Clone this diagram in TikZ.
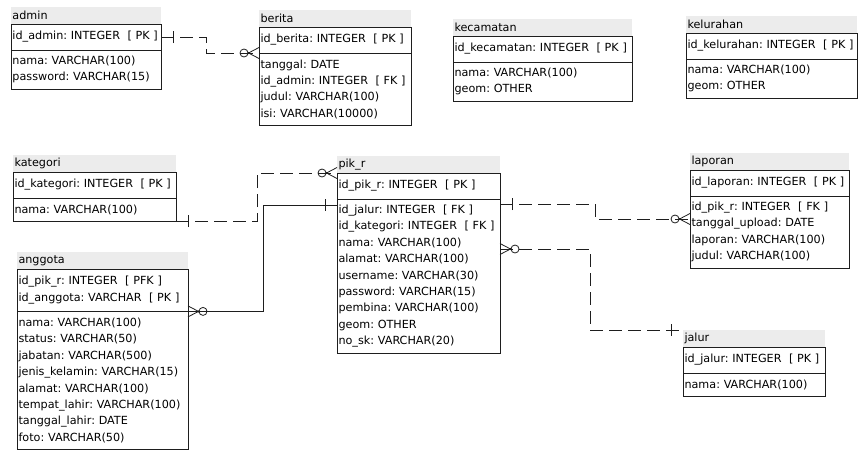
\documentclass[tikz,border=0pt]{standalone}
\usepackage{fontspec}
\setmainfont{DejaVu Sans}
\usetikzlibrary{positioning,calc}
\definecolor{bandGray}{RGB}{236,236,236}
\definecolor{boxLine}{RGB}{30,30,30}
\newcommand{\erfont}{\fontsize{11.2}{16.4}\selectfont\frenchspacing}
\tikzset{
  ttl/.style={fill=bandGray,anchor=north west,inner xsep=1.5pt,inner ysep=0pt,
              outer sep=0pt,minimum height=17pt,align=left,font=\erfont},
  pk/.style={draw=boxLine,line width=0.8pt,inner xsep=1.5pt,inner ysep=0pt,
             outer sep=0pt,align=left,font=\erfont},
  att/.style={draw=boxLine,line width=0.8pt,inner xsep=1.5pt,inner ysep=0pt,
              outer sep=0pt,align=left,font=\erfont},
  rel/.style={boxLine,line width=0.8pt,dash pattern=on 13pt off 6pt},
  idrel/.style={boxLine,line width=0.8pt},
  onemark/.pic={\draw[boxLine,solid,line width=0.8pt] (12,-6) -- (12,6);},
  manymark/.pic={\draw[boxLine,solid,line width=0.8pt] (10.5,0) -- (0,5.5) (10.5,0) -- (0,-5.5)
                 (15,0) circle (4pt);
                 \fill[boxLine] (10.5,0) circle (1.1pt);},
}

\begin{document}
\begin{tikzpicture}[x=1pt,y=1pt]
  \useasboundingbox (0,0) rectangle (858,-450);

  % top row
  \node[ttl,text width=147pt] (admin) at (11,-7) {admin};
  \node[pk,text width=147pt,minimum height=26pt,below=0pt of admin] (admin-pk)
    {id\_admin: INTEGER\ \ [ PK ]};
  \node[att,text width=147pt,minimum height=39.4pt,below=0pt of admin-pk] (admin-att)
    {nama: VARCHAR(100)\\password: VARCHAR(15)};

  \node[ttl,text width=149pt] (berita) at (259,-10) {berita};
  \node[pk,text width=149pt,minimum height=26pt,below=0pt of berita] (berita-pk)
    {id\_berita: INTEGER\ \ [ PK ]};
  \node[att,text width=149pt,minimum height=72.2pt,below=0pt of berita-pk] (berita-att)
    {tanggal: DATE\\id\_admin: INTEGER\ \ [ FK ]\\judul: VARCHAR(100)\\isi: VARCHAR(10000)};

  \node[ttl,text width=176pt] (kecamatan) at (453,-19) {kecamatan};
  \node[pk,text width=176pt,minimum height=26pt,below=0pt of kecamatan] (kecamatan-pk)
    {id\_kecamatan: INTEGER\ \ [ PK ]};
  \node[att,text width=176pt,minimum height=39.4pt,below=0pt of kecamatan-pk] (kecamatan-att)
    {nama: VARCHAR(100)\\geom: OTHER};

  \node[ttl,text width=168pt] (kelurahan) at (686,-16) {kelurahan};
  \node[pk,text width=168pt,minimum height=26pt,below=0pt of kelurahan] (kelurahan-pk)
    {id\_kelurahan: INTEGER\ \ [ PK ]};
  \node[att,text width=168pt,minimum height=39.4pt,below=0pt of kelurahan-pk] (kelurahan-att)
    {nama: VARCHAR(100)\\geom: OTHER};

  % middle and bottom
  \node[ttl,text width=160pt] (kategori) at (13,-155) {kategori};
  \node[pk,text width=160pt,minimum height=26pt,below=0pt of kategori] (kategori-pk)
    {id\_kategori: INTEGER\ \ [ PK ]};
  \node[att,text width=160pt,minimum height=23pt,below=0pt of kategori-pk] (kategori-att)
    {nama: VARCHAR(100)};

  \node[ttl,text width=160pt] (pikr) at (337,-156) {pik\_r};
  \node[pk,text width=160pt,minimum height=26pt,below=0pt of pikr] (pikr-pk)
    {id\_pik\_r: INTEGER\ \ [ PK ]};
  \node[att,text width=160pt,minimum height=154.2pt,below=0pt of pikr-pk] (pikr-att)
    {id\_jalur: INTEGER\ \ [ FK ]\\id\_kategori: INTEGER\ \ [ FK ]\\nama: VARCHAR(100)\\
     alamat: VARCHAR(100)\\username: VARCHAR(30)\\password: VARCHAR(15)\\
     pembina: VARCHAR(100)\\geom: OTHER\\no\_sk: VARCHAR(20)};

  \node[ttl,text width=156pt] (laporan) at (690,-153) {laporan};
  \node[pk,text width=156pt,minimum height=26pt,below=0pt of laporan] (laporan-pk)
    {id\_laporan: INTEGER\ \ [ PK ]};
  \node[att,text width=156pt,minimum height=72.2pt,below=0pt of laporan-pk] (laporan-att)
    {id\_pik\_r: INTEGER\ \ [ FK ]\\tanggal\_upload: DATE\\laporan: VARCHAR(100)\\judul: VARCHAR(100)};

  \node[ttl,text width=168pt] (anggota) at (17,-252) {anggota};
  \node[pk,text width=168pt,minimum height=42.4pt,below=0pt of anggota] (anggota-pk)
    {id\_pik\_r: INTEGER\ \ [ PFK ]\\id\_anggota: VARCHAR\ \ [ PK ]};
  \node[att,text width=168pt,minimum height=137.8pt,below=0pt of anggota-pk] (anggota-att)
    {nama: VARCHAR(100)\\status: VARCHAR(50)\\jabatan: VARCHAR(500)\\
     jenis\_kelamin: VARCHAR(15)\\alamat: VARCHAR(100)\\tempat\_lahir: VARCHAR(100)\\
     tanggal\_lahir: DATE\\foto: VARCHAR(50)};

  \node[ttl,text width=139pt] (jalur) at (683,-330) {jalur};
  \node[pk,text width=139pt,minimum height=26pt,below=0pt of jalur] (jalur-pk)
    {id\_jalur: INTEGER\ \ [ PK ]};
  \node[att,text width=139pt,minimum height=23pt,below=0pt of jalur-pk] (jalur-att)
    {nama: VARCHAR(100)};

  % relationships
  \coordinate (pikr-w) at ($(pikr-att.north west)+(0,-6)$);
  \coordinate (pikr-e1) at ($(pikr-att.north east)+(0,-5)$);
  \coordinate (pikr-e2) at ($(pikr-att.north east)+(0,-50)$);
  \coordinate (laporan-w) at ($(laporan-att.north west)+(0,-23)$);

  \draw[rel] (admin-pk.east) -- ++(45,0) |- (berita-pk.south west);
  \pic at (admin-pk.east) {onemark};
  \pic[rotate=180] at (berita-pk.south west) {manymark};

  \draw[rel] (kategori-att.south east) -- ++(81,0) |- (pikr-pk.north west);
  \pic at (kategori-att.south east) {onemark};
  \pic[rotate=180] at (pikr-pk.north west) {manymark};

  \draw[idrel] (pikr-w) -- ++(-74,0) |- (anggota-pk.south east);
  \pic[rotate=180] at (pikr-w) {onemark};
  \pic at (anggota-pk.south east) {manymark};

  \draw[rel] (pikr-e1) -- ++(95,0) |- (laporan-w);
  \pic at (pikr-e1) {onemark};
  \pic[rotate=180] at (laporan-w) {manymark};

  \draw[rel] (pikr-e2) -- ++(90,0) |- (jalur.north west);
  \pic at (pikr-e2) {manymark};
  \pic[rotate=180] at (jalur.north west) {onemark};
\end{tikzpicture}
\end{document}
